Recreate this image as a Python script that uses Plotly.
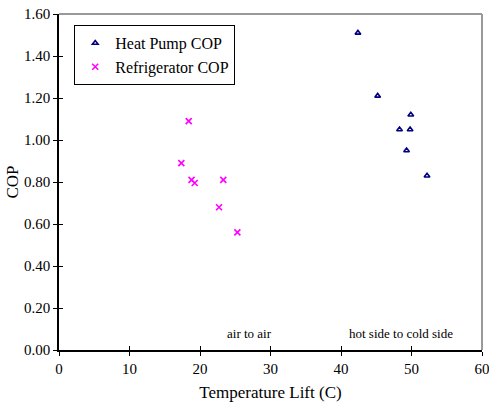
import plotly.graph_objects as go

hp_lift = [42.4, 45.2, 49.9, 48.3, 49.8, 49.3, 52.2]
hp_cop = [1.51, 1.21, 1.12, 1.05, 1.05, 0.95, 0.83]
ref_lift = [18.4, 17.35, 18.8, 19.25, 23.3, 22.7, 25.3]
ref_cop = [1.09, 0.89, 0.81, 0.795, 0.81, 0.68, 0.56]

x_ticks = [0, 10, 20, 30, 40, 50, 60]
y_ticks = [0.0, 0.2, 0.4, 0.6, 0.8, 1.0, 1.2, 1.4, 1.6]
y_labels = [f"{v:.2f}" for v in y_ticks]

FONT = "Liberation Serif, Times New Roman, serif"

fig = go.Figure()
fig.add_trace(go.Scatter(
    x=hp_lift, y=hp_cop, mode="markers", name="Heat Pump COP",
    marker=dict(symbol="triangle-up-open", size=5, color="#000080",
                line=dict(color="#000080", width=1.6)),
))
fig.add_trace(go.Scatter(
    x=ref_lift, y=ref_cop, mode="markers", name="Refrigerator COP",
    marker=dict(symbol="x-thin", size=6, color="#FF00FF",
                line=dict(color="#FF00FF", width=1.6)),
))
# invisible trace for crossing (inside) ticks
fig.add_trace(go.Scatter(x=[0], y=[0], xaxis="x2", yaxis="y2", mode="markers",
                         marker=dict(opacity=0), showlegend=False, hoverinfo="skip"))

fig.update_layout(
    width=489, height=405,
    margin=dict(l=59, r=7, t=14, b=55, autoexpand=False),
    paper_bgcolor="white", plot_bgcolor="white",
    font=dict(family=FONT, size=15, color="black"),
    showlegend=True,
    legend=dict(x=0.036, y=0.967, xanchor="left", yanchor="top",
                bgcolor="white", bordercolor="black", borderwidth=1,
                font=dict(family=FONT, size=16, color="black"),
                itemwidth=30, tracegroupgap=0),
    xaxis=dict(range=[0, 60], tickvals=x_ticks, ticks="outside", ticklen=4,
               tickcolor="black", showline=True, linecolor="black", linewidth=1.5,
               showgrid=False, zeroline=False, tickfont=dict(size=15), automargin=False,
               ticklabeloverflow="allow",
               title=dict(text="Temperature Lift (C)", font=dict(size=17), standoff=10)),
    yaxis=dict(range=[0, 1.6], tickvals=y_ticks, ticktext=y_labels, ticks="outside",
               ticklen=4, tickcolor="black", showline=True, linecolor="black",
               linewidth=1.5, showgrid=False, zeroline=False, tickfont=dict(size=15),
               automargin=False, ticklabeloverflow="allow",
               title=dict(text="COP", font=dict(size=17), standoff=1)),
    xaxis2=dict(range=[0, 60], tickvals=x_ticks, ticks="inside", ticklen=4,
                tickcolor="black", showticklabels=False, showgrid=False,
                zeroline=False, overlaying="x", anchor="y2", automargin=False),
    yaxis2=dict(range=[0, 1.6], tickvals=y_ticks, ticks="inside", ticklen=4,
                tickcolor="black", showticklabels=False, showgrid=False,
                zeroline=False, overlaying="y", anchor="x2", automargin=False),
    shapes=[
        dict(type="line", xref="paper", yref="paper", x0=0, x1=1, y0=1, y1=1,
             line=dict(color="#999999", width=2)),
        dict(type="line", xref="paper", yref="paper", x0=1, x1=1, y0=0, y1=1,
             line=dict(color="#999999", width=2)),
    ],
    annotations=[
        dict(x=27, y=0.08, xref="x", yref="y", text="air to air", showarrow=False,
             font=dict(family=FONT, size=13)),
        dict(x=48.5, y=0.08, xref="x", yref="y", text="hot side to cold side",
             showarrow=False, font=dict(family=FONT, size=13)),
    ],
)

fig.write_html("out.html", config={"displayModeBar": False},
               post_script="document.body.style.margin='0';document.body.style.overflow='hidden';")
